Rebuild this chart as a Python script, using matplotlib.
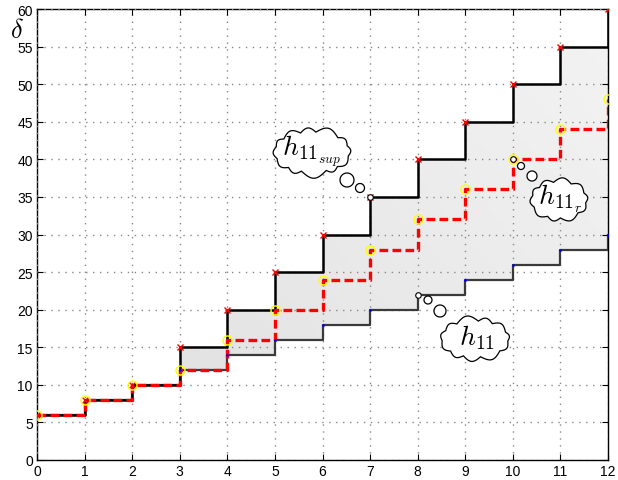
import matplotlib
matplotlib.use('Agg')
import matplotlib.pyplot as plt
import numpy as np

plt.rcParams['mathtext.fontset'] = 'cm'
plt.rcParams['font.family'] = ['Liberation Sans', 'DejaVu Sans']

# staircase bounds
x = np.arange(13)
h_sup = [6, 8, 10, 15, 20, 25, 30, 35, 40, 45, 50, 55, 60]
h_r = [6, 8, 10, 12, 16, 20, 24, 28, 32, 36, 40, 44, 48]
h_low = [6, 8, 10, 12, 14, 16, 18, 20, 22, 24, 26, 28, 30]

fig = plt.figure(figsize=(6.18, 4.81), dpi=100)
ax = fig.add_axes([37 / 618, 20 / 481, 571 / 618, 451 / 481])
ax.set_xlim(0, 12)
ax.set_ylim(0, 60)

# px -> data scale
sx = 12 / 571.0
sy = 60 / 451.0


def px(u, v):
    # pixel position (from top-left of figure) to data coords
    return (u - 37) * sx, (461 - v) * sy


# grey band between the two staircases, with a soft gradient
band = ax.fill_between(x, h_low, h_sup, step='post', color='none', lw=0, zorder=1)
gx, gy = np.meshgrid(np.linspace(0, 1, 200), np.linspace(0, 1, 200))
grad = 0.87 + 0.08 * (0.6 * gx + 0.4 * gy)
img = ax.imshow(grad, cmap='gray', vmin=0, vmax=1, extent=[0, 12, 0, 60],
                origin='lower', aspect='auto', zorder=1, interpolation='bilinear')
img.set_clip_path(band.get_paths()[0], transform=ax.transData)

ax.grid(True, linestyle=(0, (1, 4)), color='#888888', lw=1.0)
ax.set_axisbelow(False)

ax.step(x, h_low, where='post', color='#3a3a3a', lw=1.6, zorder=3)
ax.step(x, h_sup, where='post', color='k', lw=1.8, zorder=3)
ax.step(x, h_r, where='post', color='r', lw=2.4, ls=(0, (2.6, 1.3)), zorder=4)
ax.plot(x, h_low, '.', color='b', ms=2, zorder=5)
ax.plot(x, h_sup, 'x', color='r', ms=4, mew=1.0, zorder=5)
ax.plot(x, h_r, 'o', mfc='none', mec='yellow', ms=6.5, mew=1.0, zorder=5)
ax.plot([7, 10, 8], [35, 40, 22], 'o', mfc='white', mec='k', ms=4, mew=0.8, zorder=6)


def cloud(cx, cy, w, h, nb=11, seed=0):
    rng = np.random.default_rng(seed)
    ang = np.linspace(0, 2 * np.pi, nb, endpoint=False) + 0.2
    ang = ang + rng.uniform(-0.1, 0.1, nb)
    pts = np.c_[cx + w / 2 * np.cos(ang), cy + h / 2 * np.sin(ang)]
    outline = []
    for k in range(nb):
        p0, p1 = pts[k], pts[(k + 1) % nb]
        d = p1 - p0
        n = np.array([d[1], -d[0]])
        mid = (p0 + p1) / 2
        if np.dot(n, mid - [cx, cy]) < 0:
            n = -n
        n = n / np.linalg.norm(n)
        t = np.linspace(0, 1, 20)
        bulge = 0.3 * np.linalg.norm(d)
        seg = p0 + np.outer(t, d) + np.outer(np.sin(np.pi * t), n * bulge)
        outline.append(seg)
    outline = np.vstack(outline)
    dx, dy = px(outline[:, 0], outline[:, 1])
    ax.fill(dx, dy, facecolor='white', edgecolor='k', lw=0.9, zorder=7)


def bubble(u, v, r):
    t = np.linspace(0, 2 * np.pi, 60)
    dx, dy = px(u + r * np.cos(t), v + r * np.sin(t))
    ax.fill(dx, dy, facecolor='white', edgecolor='k', lw=0.9, zorder=7)


# h11 sup
cloud(312, 153, 74, 40, nb=12, seed=1)
bubble(347, 181, 7)
bubble(360, 189, 4.5)
ax.text(*px(312, 151), r'$h_{11_{sup}}$', fontsize=20, ha='center', va='center', zorder=8)

# h11 r
cloud(559, 201, 54, 36, nb=10, seed=2)
bubble(532, 177, 5)
bubble(521, 167, 3.5)
ax.text(*px(560, 199), r'$h_{11_r}$', fontsize=20, ha='center', va='center', zorder=8)

# h11
cloud(475, 340, 66, 36, nb=11, seed=3)
bubble(440, 312, 6)
bubble(428, 301, 4)
ax.text(*px(477, 338), r'$h_{11}$', fontsize=20, ha='center', va='center', zorder=8)

ax.set_xticks(np.arange(0, 13, 1))
ax.set_yticks(np.arange(0, 61, 5))
ax.tick_params(direction='in', length=4, labelsize=10, top=True, right=True, pad=3)
for s in ax.spines.values():
    s.set_linewidth(1.0)

fig.text(17 / 618, 1 - 31 / 481, r'$\delta$', fontsize=19, ha='center', va='center')

fig.savefig('out.png', dpi=100)
